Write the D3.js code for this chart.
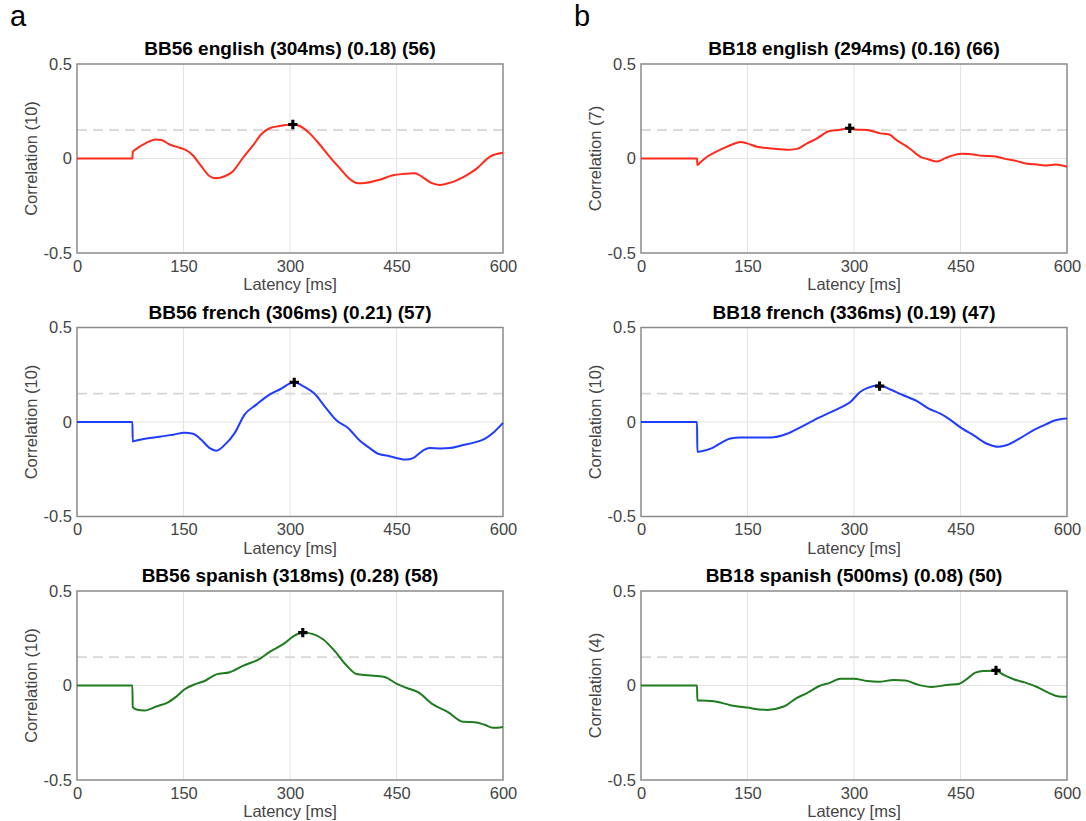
<!DOCTYPE html>
<html>
<head>
<meta charset="utf-8">
<script src="https://cdn.jsdelivr.net/npm/d3@7"></script>
<style>
  body { margin: 0; background: #fff; }
  svg { display: block; font-family: "Liberation Sans", Arial, Helvetica, sans-serif; }
</style>
</head>
<body>
<div id="chart"></div>
<script>
// Tick values
const X_TICKS = [0, 150, 300, 450, 600];
const Y_TICKS = [-0.5, 0, 0.5];
const THRESHOLD = 0.15;

// Panel meta: column a = BB56, column b = BB18
const SUBJECTS = ["BB56", "BB18"];
const LANGUAGES = ["english", "french", "spanish"];
const PANEL_LETTERS = ["a", "b"];
const PEAK_MS = [[304, 306, 318], [294, 336, 500]];
const PEAK_R = [[0.18, 0.21, 0.28], [0.16, 0.19, 0.08]];
const COUNTS = [[56, 57, 58], [66, 47, 50]];
const N_SENSORS = [[10, 10, 10], [7, 10, 4]];

// Curves [latency ms, correlation]
const bb56English = [[0,0],[78,0],[78.5,0.035],[83.6,0.051],[97.7,0.083],[110.8,0.101],[118.8,0.098],[130.5,0.074],[144.6,0.057],[151.6,0.048],[163.4,0.016],[175,-0.041],[186.9,-0.094],[196,-0.105],[208,-0.094],[219.7,-0.067],[233.8,0.004],[247.9,0.069],[259.6,0.128],[271.4,0.160],[285.5,0.172],[304,0.18],[313.6,0.172],[327.7,0.133],[341.8,0.074],[355.9,0.009],[370,-0.051],[384,-0.108],[395.8,-0.131],[407.5,-0.128],[426.3,-0.112],[445,-0.089],[459,-0.082],[475.6,-0.078],[485,-0.094],[499,-0.129],[510.8,-0.140],[524.9,-0.129],[546,-0.094],[562.5,-0.055],[581.2,0.009],[600,0.030]];
const bb56French = [[0,0],[78,0],[78.5,-0.103],[83.6,-0.098],[97.7,-0.087],[116.4,-0.078],[135.2,-0.067],[151.6,-0.057],[163.4,-0.062],[175.1,-0.094],[186.9,-0.138],[196.3,-0.152],[208,-0.121],[222,-0.059],[236,0.039],[252.6,0.092],[269,0.140],[285.5,0.172],[306,0.21],[318.3,0.190],[334.7,0.149],[348.8,0.083],[365.3,0.009],[381.7,-0.032],[398.1,-0.098],[412.2,-0.138],[423.9,-0.168],[438,-0.179],[449.8,-0.190],[463.8,-0.199],[473.2,-0.191],[487.3,-0.151],[496.7,-0.138],[513.2,-0.140],[524.9,-0.138],[541.3,-0.124],[560.1,-0.108],[574.2,-0.089],[588.3,-0.050],[600,-0.005]];
const bb56Spanish = [[0,0],[78,0],[78.5,-0.114],[83.6,-0.127],[95.3,-0.132],[111.7,-0.111],[128.2,-0.089],[139.9,-0.059],[151.6,-0.020],[165.7,0.006],[179.8,0.024],[196.3,0.059],[215,0.070],[233.8,0.104],[257.3,0.141],[271.4,0.178],[292.5,0.224],[304.2,0.259],[318,0.28],[332.4,0.272],[346.5,0.245],[362.9,0.183],[379.4,0.107],[393.4,0.061],[409.9,0.054],[433.3,0.045],[449.8,0.010],[463.8,-0.012],[480.3,-0.035],[501.4,-0.100],[522.5,-0.141],[543.7,-0.192],[560.1,-0.194],[574.2,-0.208],[585.9,-0.224],[600,-0.219]];
const bb18English = [[0,0],[78.9,0],[79.4,-0.034],[83.6,-0.020],[93,0.009],[104.7,0.034],[116.4,0.055],[128.2,0.074],[139.9,0.087],[149.3,0.080],[163.4,0.062],[177.5,0.055],[191.6,0.050],[205.6,0.046],[219.7,0.051],[233.8,0.080],[247.9,0.106],[264.3,0.144],[278.4,0.151],[294,0.16],[304.2,0.152],[318.3,0.151],[337,0.133],[348.8,0.128],[360.5,0.096],[377,0.057],[393.4,0.009],[405.2,-0.005],[416.9,-0.016],[428.7,0.002],[440.4,0.018],[454.5,0.025],[468.6,0.021],[480.3,0.014],[496.7,0.012],[513.2,-0.002],[529.6,-0.014],[543.7,-0.028],[557.8,-0.032],[571.9,-0.037],[583.6,-0.032],[600,-0.044]];
const bb18French = [[0,0],[78.9,0],[79.4,-0.158],[83.6,-0.156],[100,-0.138],[114,-0.108],[125.8,-0.087],[139.9,-0.082],[158.7,-0.082],[182.2,-0.082],[205.6,-0.062],[224.4,-0.028],[243.2,0.009],[262,0.043],[280.8,0.076],[294.9,0.106],[309,0.160],[318.3,0.179],[336,0.195],[351.2,0.172],[370,0.140],[388.8,0.110],[405.2,0.071],[421.6,0.044],[435.7,0.011],[452.1,-0.034],[468.6,-0.071],[487.3,-0.115],[503.7,-0.131],[515.5,-0.122],[534.2,-0.085],[553,-0.043],[569.5,-0.014],[583.6,0.009],[600,0.018]];
const bb18Spanish = [[0,0],[78.9,0],[79.4,-0.080],[83.6,-0.080],[102.3,-0.083],[125.8,-0.104],[149.3,-0.117],[177.5,-0.129],[201,-0.111],[219.7,-0.065],[233.8,-0.040],[250.3,-0.004],[266.7,0.015],[280.8,0.036],[299.6,0.036],[318.3,0.024],[334.7,0.020],[355.9,0.029],[372.4,0.027],[388.8,0.006],[409.9,-0.008],[431,0.003],[447.4,0.008],[459.2,0.035],[470.9,0.068],[482.6,0.077],[500,0.078],[510.8,0.056],[524.9,0.033],[541.3,0.015],[557.8,-0.008],[574.2,-0.039],[588.3,-0.058],[600,-0.060]];

const CURVES = [[bb56English, bb56French, bb56Spanish], [bb18English, bb18French, bb18Spanish]];
const LANG_COLORS = ["#ff2a1a", "#1f3cff", "#1e7b1e"];

const WIDTH = 1086, HEIGHT = 821;
const PLOT_W = 426, PLOT_H = 189;
const COL_X = [77, 641];
const ROW_Y = [64, 327.5, 591];
const LABEL_SIZE = "16.5px";

const svg = d3.select("#chart").append("svg")
    .attr("width", WIDTH)
    .attr("height", HEIGHT)
    .attr("viewBox", [0, 0, WIDTH, HEIGHT]);

const x = d3.scaleLinear().domain([0, 600]).range([0, PLOT_W]);
const y = d3.scaleLinear().domain([-0.5, 0.5]).range([PLOT_H, 0]);

const line = d3.line()
    .x(d => x(d[0]))
    .y(d => y(d[1]))
    .curve(d3.curveMonotoneX);

SUBJECTS.forEach(function(subject, col) {
    // Panel letter
    svg.append("text")
        .text(PANEL_LETTERS[col])
        .attr("x", COL_X[col] - 67)
        .attr("y", 26)
        .style("font-size", "29px")
        .style("fill", "#000");

    LANGUAGES.forEach(function(lang, row) {
        var g = svg.append("g")
            .attr("transform", `translate(${COL_X[col]},${ROW_Y[row]})`);

        // Grid
        g.append("g")
            .selectAll("line")
            .data(X_TICKS.slice(1, -1))
            .join("line")
            .attr("x1", d => x(d)).attr("x2", d => x(d))
            .attr("y1", 0).attr("y2", PLOT_H)
            .style("stroke", "#e3e3e3")
            .style("stroke-width", 1);
        g.append("line")
            .attr("x1", 0).attr("x2", PLOT_W)
            .attr("y1", y(0)).attr("y2", y(0))
            .style("stroke", "#e3e3e3")
            .style("stroke-width", 1);

        // Significance threshold
        g.append("line")
            .attr("x1", 0).attr("x2", PLOT_W)
            .attr("y1", y(THRESHOLD)).attr("y2", y(THRESHOLD))
            .style("stroke", "#d6d6d6")
            .style("stroke-width", 1.6)
            .style("stroke-dasharray", "10,6");

        // Axes (labels only)
        var xAxis = g.append("g")
            .attr("transform", `translate(0,${PLOT_H})`)
            .call(d3.axisBottom(x).tickValues(X_TICKS).tickSize(0).tickPadding(7).tickFormat(d => String(d)));
        var yAxis = g.append("g")
            .call(d3.axisLeft(y).tickValues(Y_TICKS).tickSize(0).tickPadding(5).tickFormat(d => String(d)));
        [xAxis, yAxis].forEach(function(a) {
            a.select(".domain").remove();
            a.selectAll("text")
                .style("font-size", LABEL_SIZE)
                .style("font-family", "Liberation Sans, Arial, sans-serif")
                .style("fill", "#454545");
        });

        // Frame
        g.append("rect")
            .attr("x", 0).attr("y", 0)
            .attr("width", PLOT_W).attr("height", PLOT_H)
            .style("fill", "none")
            .style("stroke", "#8a8a8a")
            .style("stroke-width", 1.5);

        // Curve
        g.append("path")
            .datum(CURVES[col][row])
            .attr("d", line)
            .style("fill", "none")
            .style("stroke", LANG_COLORS[row])
            .style("stroke-width", 2)
            .style("stroke-linejoin", "round");

        // Peak marker
        g.append("path")
            .attr("d", d3.symbol(d3.symbolCross).size(48))
            .attr("transform", `translate(${x(PEAK_MS[col][row])},${y(PEAK_R[col][row])})`)
            .style("fill", "#000");

        // Title
        g.append("text")
            .text(`${subject} ${lang} (${PEAK_MS[col][row]}ms) (${PEAK_R[col][row].toFixed(2)}) (${COUNTS[col][row]})`)
            .attr("x", PLOT_W / 2)
            .attr("y", -9)
            .attr("text-anchor", "middle")
            .style("font-size", "19px")
            .style("font-weight", "bold")
            .style("fill", "#000");

        // Axis titles
        g.append("text")
            .text("Latency [ms]")
            .attr("x", PLOT_W / 2)
            .attr("y", PLOT_H + 37)
            .attr("text-anchor", "middle")
            .style("font-size", LABEL_SIZE)
            .style("fill", "#454545");
        g.append("text")
            .text(`Correlation (${N_SENSORS[col][row]})`)
            .attr("transform", `translate(-40,${PLOT_H / 2}) rotate(-90)`)
            .attr("text-anchor", "middle")
            .style("font-size", LABEL_SIZE)
            .style("fill", "#454545");
    });
});
</script>
</body>
</html>
